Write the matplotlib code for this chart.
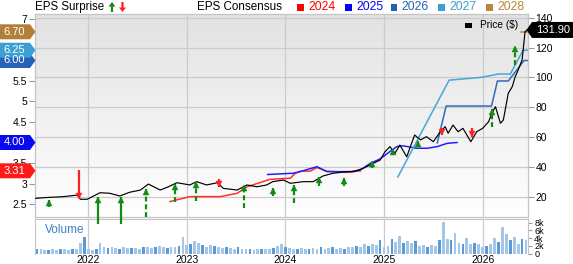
import numpy as np
import matplotlib.pyplot as plt
import matplotlib.transforms as mtransforms
from matplotlib.patches import Polygon, Rectangle
from matplotlib.colors import LinearSegmentedColormap

plt.rcParams['font.family'] = ['Liberation Sans', 'DejaVu Sans']

# ---- data (decimal years) ----
price_t = [2021.46, 2021.61, 2021.74, 2021.89, 2021.92, 2021.99, 2022.12, 2022.22, 2022.32, 2022.42,
           2022.53, 2022.61, 2022.73, 2022.80, 2022.90, 2023.03, 2023.10, 2023.20, 2023.31, 2023.37,
           2023.51, 2023.61, 2023.71, 2023.81, 2023.87, 2023.98, 2024.05, 2024.18, 2024.28, 2024.38,
           2024.48, 2024.62, 2024.69, 2024.79, 2024.89, 2024.96, 2025.01, 2025.06, 2025.11, 2025.16,
           2025.23, 2025.31, 2025.37, 2025.43, 2025.50, 2025.57, 2025.62, 2025.65, 2025.70, 2025.75,
           2025.80, 2025.88, 2025.94, 2026.00, 2026.06, 2026.10, 2026.13, 2026.18, 2026.21, 2026.26,
           2026.30, 2026.33, 2026.36, 2026.40, 2026.43, 2026.45]
price_v = [18.9, 19.6, 20.0, 21.1, 18.3, 18.3, 22.7, 22.3, 20.5, 23.0,
           24.5, 28.5, 24.5, 26.3, 29.4, 27.9, 30.1, 27.9, 29.4, 25.6,
           24.5, 27.9, 26.7, 27.9, 30.1, 31.2, 29.0, 30.1, 30.1, 33.9,
           35.7, 36.8, 36.8, 39.1, 42.4, 44.6, 50.2, 53.6, 49.1, 54.7,
           46.8, 61.4, 58.1, 60.3, 56.9, 63.6, 67.0, 62.6, 68.1, 63.6,
           65.9, 56.9, 63.6, 65.9, 70.3, 77.0, 80.4, 69.3, 71.5, 89.4,
           93.8, 100.5, 105.0, 111.7, 130.7, 131.9]

# EPS consensus lines
eps24_t = [2022.83, 2023.03, 2023.34, 2023.51, 2023.61, 2023.74, 2023.84, 2024.05, 2024.10, 2024.15,
           2024.25, 2024.32, 2024.42, 2024.62, 2024.76]
eps24_v = [2.56, 2.68, 2.68, 2.76, 2.92, 3.02, 3.10, 3.13, 3.25, 3.30,
           3.30, 3.39, 3.30, 3.27, 3.31]
eps25_t = [2023.82, 2024.08, 2024.15, 2024.32, 2024.42, 2024.66, 2024.76, 2024.86, 2024.96, 2025.06,
           2025.13, 2025.19, 2025.33, 2025.44, 2025.54, 2025.64, 2025.74]
eps25_v = [3.22, 3.25, 3.29, 3.41, 3.29, 3.29, 3.33, 3.49, 3.60, 3.78,
           3.90, 3.92, 3.86, 3.86, 3.90, 3.98, 4.00]
eps26_t = [2025.54, 2025.63, 2026.09, 2026.15, 2026.26, 2026.42, 2026.46]
eps26_v = [3.99, 4.89, 4.89, 5.50, 5.50, 6.00, 6.00]
eps27_t = [2025.14, 2025.66, 2025.99, 2026.16, 2026.28, 2026.41, 2026.46]
eps27_v = [3.16, 5.52, 5.59, 5.67, 5.67, 6.25, 6.25]
eps28_t = [2026.39, 2026.46]
eps28_v = [6.70, 6.70]

# EPS surprise arrows (price scale)
surp_t = [2021.60, 2021.91, 2022.10, 2022.33, 2022.59, 2022.88, 2023.09, 2023.33, 2023.58, 2023.87,
          2024.09, 2024.34, 2024.59, 2024.88, 2025.09, 2025.34, 2025.59, 2025.89, 2026.09, 2026.33]
surp_head = [17.8, 18.9, 20.0, 20.0, 25.0, 28.5, 29.4, 26.7, 27.4, 25.6,
             27.9, 33.0, 32.6, 43.5, 52.0, 57.4, 61.4, 60.3, 78.7, 120.7]
surp_tail = [13.3, 37.9, 1.7, 1.7, 6.6, 16.6, 17.3, 31.7, 12.2, 20.5,
             15.6, 27.4, 27.2, 39.1, 48.7, 54.7, 66.3, 65.9, 67.0, 108.4]
surp_dashed = [False, False, False, False, True, True, True, False, True, False,
               True, False, False, False, False, False, False, False, True, True]

# volume (thousands), one bar every 0.04 yr from 2021.48
vol = [1.3, 1.1, 1.0, 1.0, 1.1, 1.0, 1.2, 1.1, 1.0, 1.2,
       1.3, 2.7, 4.3, 1.2, 1.0, 1.2, 2.7, 1.6, 1.4, 1.8,
       1.5, 1.3, 1.6, 1.4, 1.5, 1.5, 1.3, 1.6, 1.8, 1.4,
       1.7, 1.9, 1.6, 1.5, 1.8, 1.7, 2.0, 4.3, 2.2, 2.5,
       3.3, 2.8, 2.2, 1.8, 2.3, 1.9, 1.6, 1.5, 1.7, 1.4,
       1.3, 1.6, 1.2, 1.1, 1.3, 1.0, 1.2, 1.1, 1.3, 1.2,
       1.4, 2.0, 2.6, 1.8, 1.5, 1.2, 1.3, 1.5, 1.1, 1.2,
       1.4, 1.3, 1.6, 1.2, 1.4, 1.7, 1.3, 1.5, 1.2, 1.8,
       1.6, 2.0, 1.7, 2.6, 2.0, 2.4, 2.2, 3.4, 1.6, 2.0,
       3.8, 3.0, 4.6, 2.8, 3.3, 2.7, 3.2, 1.9, 2.1, 1.8,
       2.2, 2.0, 3.5, 8.3, 3.9, 3.6, 5.4, 2.8, 2.5, 4.0,
       2.6, 2.8, 2.6, 1.6, 1.9, 2.4, 4.0, 3.0, 6.9, 5.2,
       3.6, 4.2, 2.4, 3.9, 3.4]
vol_t = 2021.48 + 0.04 * np.arange(len(vol))

years = [2022, 2023, 2024, 2025, 2026]
price_ticks = [20, 40, 60, 80, 100, 120, 140]
eps_ticks = [2.5, 3, 3.5, 4.5, 5, 5.5, 7]

badges = [(3.31, '#ff1a1a'), (4.00, '#0a0aee'), (6.00, '#2562b8'), (6.25, '#3c9fd3'), (6.70, '#b27f3b')]
legend_years = ['2024', '2025', '2026', '2027', '2028']
legend_cols = ['#ff0000', '#0000ff', '#2462b6', '#3c9fd3', '#b8873c']
line_cols = ['#ff3030', '#2020ff', '#2e6cbc', '#46a6d8', '#b8873c']

# ---- layout ----
W, H = 573, 264
fig = plt.figure(figsize=(W / 100, H / 100), dpi=100)


def fx(px):
    return px / W


def fy(py):
    return 1 - py / H


ax = fig.add_axes([fx(35), fy(217), fx(528) - fx(35), fy(14) - fy(217)])
axv = fig.add_axes([fx(35), fy(253.5), fx(528) - fx(35), fy(218.5) - fy(253.5)])
ax2 = ax.twinx()

x_lo, x_hi = 2021.46, 2026.46
eps_lo, eps_hi = 2.183, 7.134
pr_lo, pr_hi = 6.4, 142.6
gc = '#cbcbcb'

# background gradient
grad = np.linspace(0, 1, 256).reshape(-1, 1)
cmap = LinearSegmentedColormap.from_list('bg', ['#ffffff', '#e2e2e2'])
ax.imshow(grad, cmap=cmap, extent=[0, 1, 0, 1], transform=ax.transAxes,
          aspect='auto', origin='lower', zorder=0)

# grid (price grid drawn on eps axis so it stays behind the lines)
for p in price_ticks:
    e = eps_lo + (p - pr_lo) / (pr_hi - pr_lo) * (eps_hi - eps_lo)
    ax.axhline(e, color=gc, lw=0.9, zorder=1)
for yr in years:
    ax.axvline(yr, color=gc, lw=0.9, zorder=1)
    axv.axvline(yr, color=gc, lw=0.9, zorder=0)

# consensus lines
for t, v, c in zip([eps24_t, eps25_t, eps26_t, eps27_t, eps28_t],
                   [eps24_v, eps25_v, eps26_v, eps27_v, eps28_v], line_cols):
    ax.plot(t, v, color=c, lw=1.1, zorder=3)

# price
ax2.plot(price_t, price_v, color='black', lw=0.85, zorder=3)

# surprise arrows
for t, hd, tl, ds in zip(surp_t, surp_head, surp_tail, surp_dashed):
    up = hd > tl
    c = '#138a13' if up else '#ff2020'
    ax2.plot([t, t], [tl, hd], color=c, lw=1.6, ls=(0, (2.2, 1.3)) if ds else '-',
             solid_capstyle='butt', dash_capstyle='butt', zorder=5, clip_on=False)
    off = mtransforms.offset_copy(ax2.transData, fig=fig, y=-2.0 if up else 2.0, units='points')
    ax2.plot([t], [hd], marker='^' if up else 'v', ms=4.5, color=c, mec=c, mew=0.3,
             transform=off, zorder=6, clip_on=False)

# volume bars
vcols = ['#a6c6e8' if i % 3 else '#5a9ad6' for i in range(len(vol))]
axv.bar(vol_t, vol, width=0.028, color=vcols, zorder=2)
axv.text((45 - 35) / 493, 0.68, 'Volume', transform=axv.transAxes, color='#3d80c4',
         fontsize=8.5, va='center')

# axes limits / ticks
ax.set_xlim(x_lo, x_hi)
ax.set_ylim(eps_lo, eps_hi)
ax2.set_ylim(pr_lo, pr_hi)
axv.set_xlim(x_lo, x_hi)
axv.set_ylim(0, 9.1)

ax.set_xticks([])
ax.set_yticks(eps_ticks)
ax.set_yticklabels(['%g' % v for v in eps_ticks])
ax2.set_yticks(price_ticks)
for a in (ax, ax2):
    a.tick_params(axis='y', length=4, width=0.8, color='#9a9a9a', labelsize=7.5, pad=1.5)
    for s in a.spines.values():
        s.set_color('#c4c4c4')

axv.set_facecolor('white')
axv.yaxis.tick_right()
axv.set_yticks([0, 2, 4, 6, 8])
axv.set_yticklabels(['0', '2k', '4k', '6k', '8k'])
axv.tick_params(axis='y', length=3, width=0.8, color='#9a9a9a', labelsize=6.5, pad=1.5)
axv.set_xticks(years)
axv.set_xticklabels([str(y) for y in years])
axv.tick_params(axis='x', length=0, labelsize=7.5, pad=1)
for s in axv.spines.values():
    s.set_color('#c4c4c4')
axv.spines['bottom'].set_visible(False)

# ---- badges ----
for v, c in badges:
    yc = ax.transData.transform((x_lo, v))[1]
    pts = [(0, yc - 7.5), (30, yc - 7.5), (35.5, yc), (30, yc + 7.5), (0, yc + 7.5)]
    fig.patches.append(Polygon([(x / W, y / H) for x, y in pts], closed=True, fc=c, ec='none',
                               transform=fig.transFigure, zorder=4))
    fig.text(fx(14.5), yc / H, '%.2f' % v, color='white', fontsize=8, ha='center', va='center',
             zorder=5)

last = price_v[-1]
yc = ax2.transData.transform((x_hi, last))[1]
pts = [(526.5, yc), (532, yc - 8), (573, yc - 8), (573, yc + 8), (532, yc + 8)]
fig.patches.append(Polygon([(x / W, y / H) for x, y in pts], closed=True, fc='black', ec='none',
                           transform=fig.transFigure, zorder=4))
fig.text(fx(553), yc / H, '%.2f' % last, color='white', fontsize=8, ha='center', va='center',
         zorder=5)

# ---- header ----
fig.text(fx(35), fy(7), 'EPS Surprise', fontsize=8.3, va='center')


def arrow_glyph(cx, up, c):
    if up:
        pts = [(cx, 2), (cx + 3.5, 6.5), (cx + 1.1, 6.5), (cx + 1.1, 12), (cx - 1.1, 12),
               (cx - 1.1, 6.5), (cx - 3.5, 6.5)]
    else:
        pts = [(cx, 12), (cx + 3.5, 7.5), (cx + 1.1, 7.5), (cx + 1.1, 2), (cx - 1.1, 2),
               (cx - 1.1, 7.5), (cx - 3.5, 7.5)]
    fig.patches.append(Polygon([(fx(x), fy(y)) for x, y in pts], closed=True, fc=c, ec='none',
                               transform=fig.transFigure))


arrow_glyph(112, True, '#138a13')
arrow_glyph(122.5, False, '#ff2020')

fig.text(fx(196.7), fy(7), 'EPS Consensus', fontsize=8.4, va='center')
sq_x = [297.3, 345, 390.7, 438, 486]
for x0, lab, c in zip(sq_x, legend_years, legend_cols):
    fig.patches.append(Rectangle((fx(x0), fy(10.5)), fx(6.7), 6.7 / H, fc=c, ec='none',
                                 transform=fig.transFigure))
    fig.text(fx(x0 + 11), fy(7), lab, color=c, fontsize=8.8, va='center')

# price legend
fig.patches.append(Rectangle((fx(465), fy(27.5)), fx(7), 5 / H, fc='black', ec='none',
                             transform=fig.transFigure, zorder=4))
fig.text(fx(479.5), fy(25.5), 'Price ($)', fontsize=7.3, va='center', zorder=5)

fig.savefig('out.png', dpi=100)
